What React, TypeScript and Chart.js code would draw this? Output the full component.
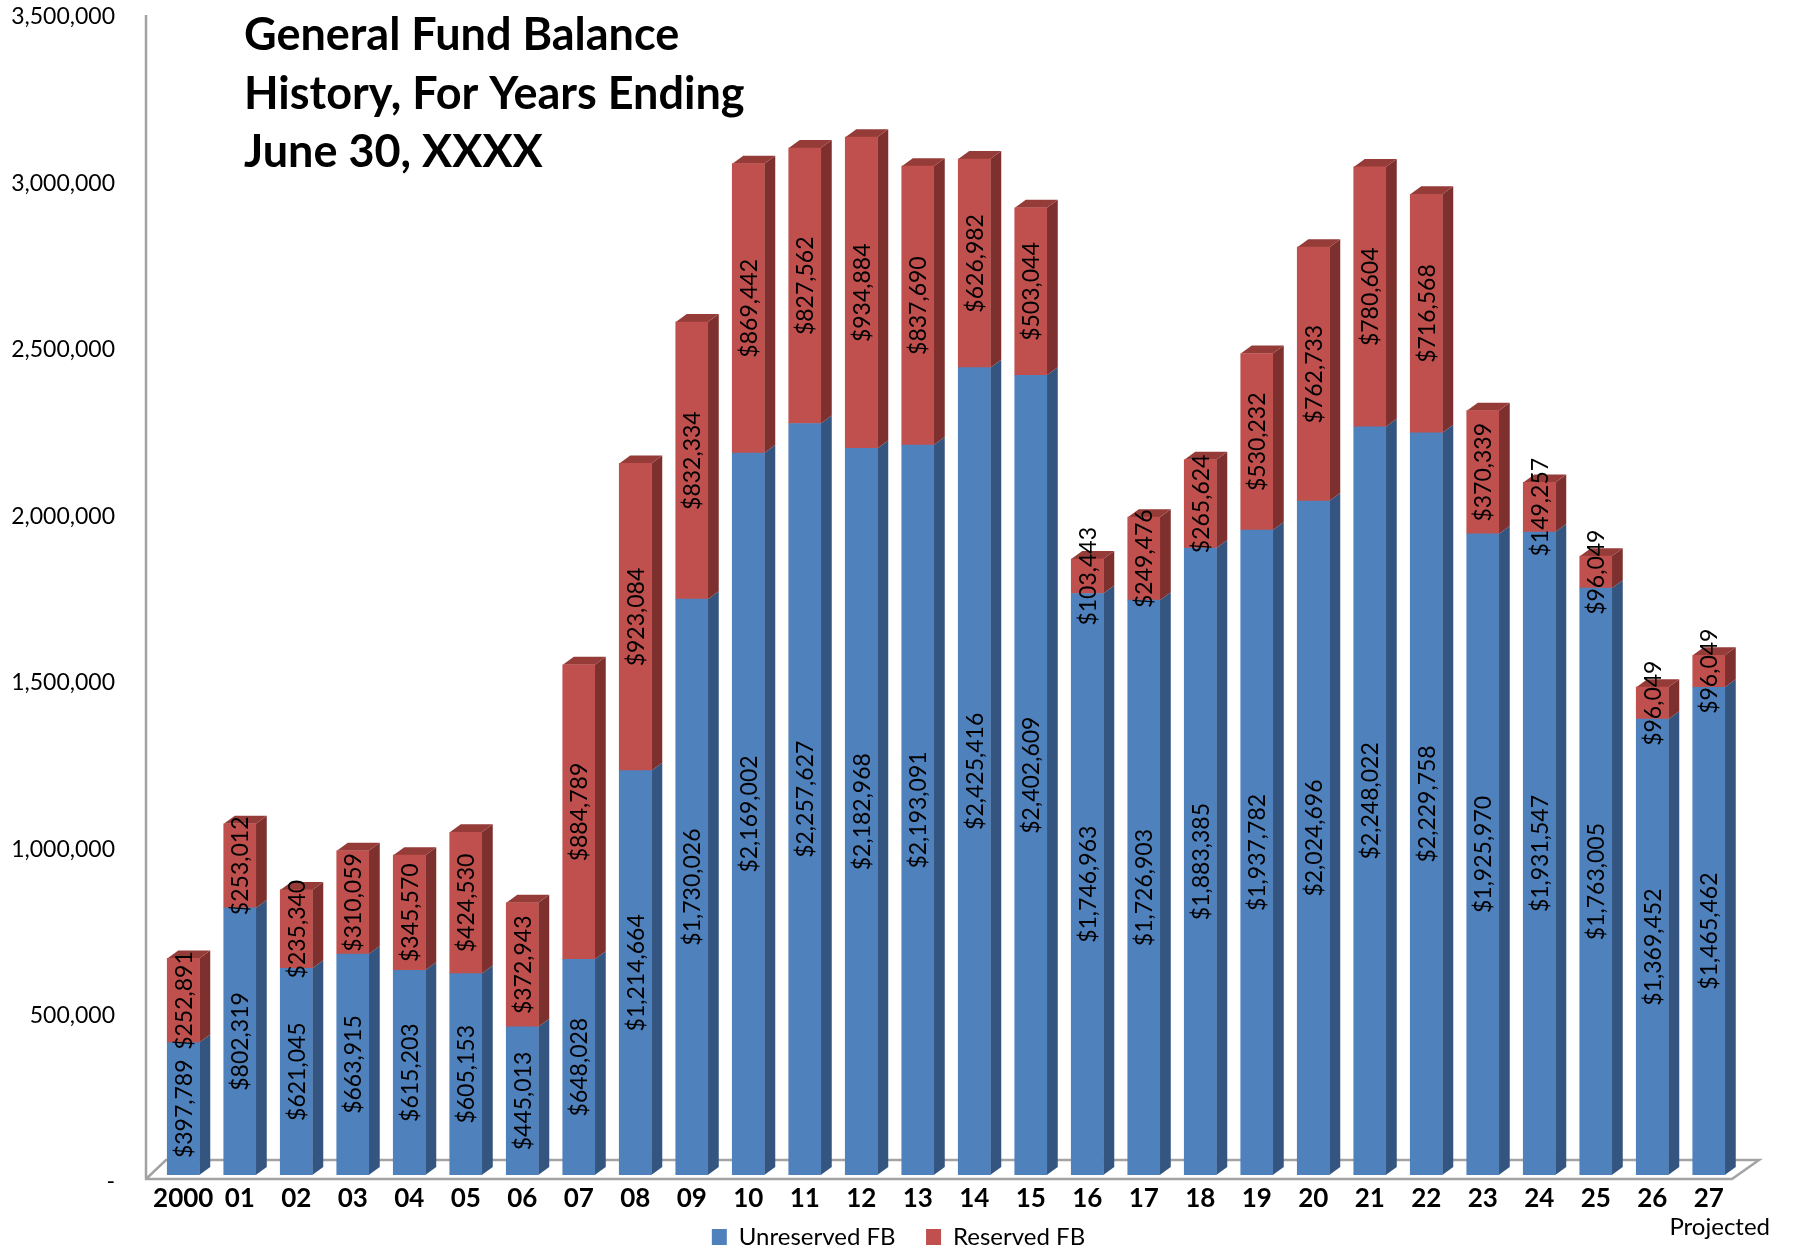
import React, { useEffect, useRef } from 'react';
import { Chart, registerables } from 'chart.js';

Chart.register(...registerables);

const categories = ['2000', '01', '02', '03', '04', '05', '06', '07', '08', '09', '10', '11', '12', '13', '14', '15', '16', '17', '18', '19', '20', '21', '22', '23', '24', '25', '26', '27'];
const unreserved = [397789, 802319, 621045, 663915, 615203, 605153, 445013, 648028, 1214664, 1730026, 2169002, 2257627, 2182968, 2193091, 2425416, 2402609, 1746963, 1726903, 1883385, 1937782, 2024696, 2248022, 2229758, 1925970, 1931547, 1763005, 1369452, 1465462];
const reserved = [252891, 253012, 235340, 310059, 345570, 424530, 372943, 884789, 923084, 832334, 869442, 827562, 934884, 837690, 626982, 503044, 103443, 249476, 265624, 530232, 762733, 780604, 716568, 370339, 149257, 96049, 96049, 96049];
const seriesNames = ['Unreserved FB', 'Reserved FB'];
const titleLines = ['General Fund Balance', 'History, For Years Ending', 'June 30, XXXX'];
const projectedNote = 'Projected';
const yMax = 3500000;
const yStep = 500000;

const FONT = 'Lato, "Open Sans", sans-serif';
const frontColors = ['#4F81BD', '#C0504D'];
const sideColors = ['#34557F', '#7E302E'];
const topColors = ['#3E669A', '#953B38'];
const DX = 11;
const DY = -8;

const fmtMoney = (v: number) => '$' + v.toLocaleString('en-US');

const threeD = {
  id: 'threeD',
  beforeDatasetsDraw(chart: any) {
    const { ctx, chartArea } = chart;
    ctx.save();
    ctx.strokeStyle = '#A3A3A3';
    ctx.lineWidth = 2.5;
    const l = chartArea.left - 9;
    const b = chartArea.bottom + 4;
    const r = chartArea.right - 5;
    ctx.beginPath();
    ctx.moveTo(l, chartArea.top + 5);
    ctx.lineTo(l, b);
    ctx.lineTo(r, b);
    ctx.lineTo(r + 27, b - 19);
    ctx.lineTo(l + 20, b - 19);
    ctx.lineTo(l, b);
    ctx.stroke();
    const n = chart.data.datasets.length;
    chart.data.datasets.forEach((_ds: any, di: number) => {
      const meta = chart.getDatasetMeta(di);
      meta.data.forEach((bar: any) => {
        const { x, y, base, width } = bar.getProps(['x', 'y', 'base', 'width'], true);
        const xr = x + width / 2;
        const xl = x - width / 2;
        ctx.fillStyle = sideColors[di];
        ctx.beginPath();
        ctx.moveTo(xr, y);
        ctx.lineTo(xr + DX, y + DY);
        ctx.lineTo(xr + DX, base + DY);
        ctx.lineTo(xr, base);
        ctx.closePath();
        ctx.fill();
        if (di === n - 1) {
          ctx.fillStyle = topColors[di];
          ctx.beginPath();
          ctx.moveTo(xl, y);
          ctx.lineTo(xl + DX, y + DY);
          ctx.lineTo(xr + DX, y + DY);
          ctx.lineTo(xr, y);
          ctx.closePath();
          ctx.fill();
        }
      });
    });
    ctx.restore();
  },
  afterDatasetsDraw(chart: any) {
    const { ctx, chartArea } = chart;
    ctx.save();
    ctx.fillStyle = '#000';
    ctx.font = `23px ${FONT}`;
    ctx.textAlign = 'center';
    ctx.textBaseline = 'middle';
    chart.data.datasets.forEach((ds: any, di: number) => {
      const meta = chart.getDatasetMeta(di);
      meta.data.forEach((bar: any, i: number) => {
        const { x, y, base } = bar.getProps(['x', 'y', 'base'], true);
        ctx.save();
        ctx.translate(x + 1, (y + base) / 2);
        ctx.rotate(-Math.PI / 2);
        ctx.fillText(fmtMoney(ds.data[i]), 0, 0);
        ctx.restore();
      });
    });
    ctx.font = `bold 45px ${FONT}`;
    ctx.textAlign = 'left';
    ctx.textBaseline = 'alphabetic';
    titleLines.forEach((t, i) => {
      ctx.fillText(t, chartArea.left + 89, chartArea.top + 40 + i * 58.5);
    });
    ctx.font = `24px ${FONT}`;
    ctx.textAlign = 'right';
    ctx.textBaseline = 'middle';
    ctx.fillText(projectedNote, chartArea.right + 33, chartArea.bottom + 52);
    ctx.restore();
  },
};

export default function App() {
  const ref = useRef<HTMLCanvasElement>(null);
  useEffect(() => {
    if (!ref.current) return;
    const chart = new Chart(ref.current, {
      type: 'bar',
      data: {
        labels: categories,
        datasets: [
          { label: seriesNames[0], data: unreserved, backgroundColor: frontColors[0], borderWidth: 0 },
          { label: seriesNames[1], data: reserved, backgroundColor: frontColors[1], borderWidth: 0 },
        ],
      },
      options: {
        responsive: false,
        animation: false,
        devicePixelRatio: 1,
        layout: { padding: { top: 10, right: 0, bottom: 0, left: 0 } },
        datasets: { bar: { barThickness: 32 } } as any,
        scales: {
          x: {
            stacked: true,
            grid: { display: false, drawTicks: false },
            border: { display: false },
            ticks: {
              color: '#000',
              font: { family: FONT, size: 26, weight: 'bold' },
              padding: 8,
              maxRotation: 0,
              autoSkip: false,
            },
            afterFit: (s: any) => { s.height = 38; s.paddingLeft = 0; s.paddingRight = 0; },
          },
          y: {
            stacked: true,
            min: 0,
            max: yMax,
            grid: { display: false, drawTicks: false },
            border: { display: false },
            ticks: {
              stepSize: yStep,
              color: '#000',
              font: { family: FONT, size: 23 },
              padding: 40,
              labelOffset: 7,
              callback: (v: any) => (Number(v) === 0 ? '-' : Number(v).toLocaleString('en-US')),
            },
            afterFit: (s: any) => { s.width = 155; s.paddingTop = 0; s.paddingBottom = 0; },
          },
          yRight: {
            position: 'right',
            display: true,
            min: 0,
            max: yMax,
            grid: { display: false, drawTicks: false },
            border: { display: false },
            ticks: { display: false },
            afterFit: (s: any) => { s.width = 60; s.paddingTop = 0; s.paddingBottom = 0; },
          },
        },
        plugins: {
          legend: {
            position: 'bottom',
            labels: {
              color: '#000',
              font: { family: FONT, size: 24 },
              boxWidth: 15,
              boxHeight: 16,
              padding: 12,
              generateLabels: (c: any) => {
                const items = Chart.defaults.plugins.legend.labels.generateLabels(c);
                return items.map((it: any, i: number) =>
                  i < items.length - 1 ? { ...it, text: it.text + '   ' } : it
                );
              },
            },
          },
          title: { display: false },
          tooltip: { enabled: false },
        },
      },
      plugins: [threeD],
    });
    return () => chart.destroy();
  }, []);
  return (
    <div style={{ position: 'fixed', left: 0, top: 0, width: 1797, height: 1259, background: '#fff' }}>
      <canvas ref={ref} width={1797} height={1259} />
    </div>
  );
}
